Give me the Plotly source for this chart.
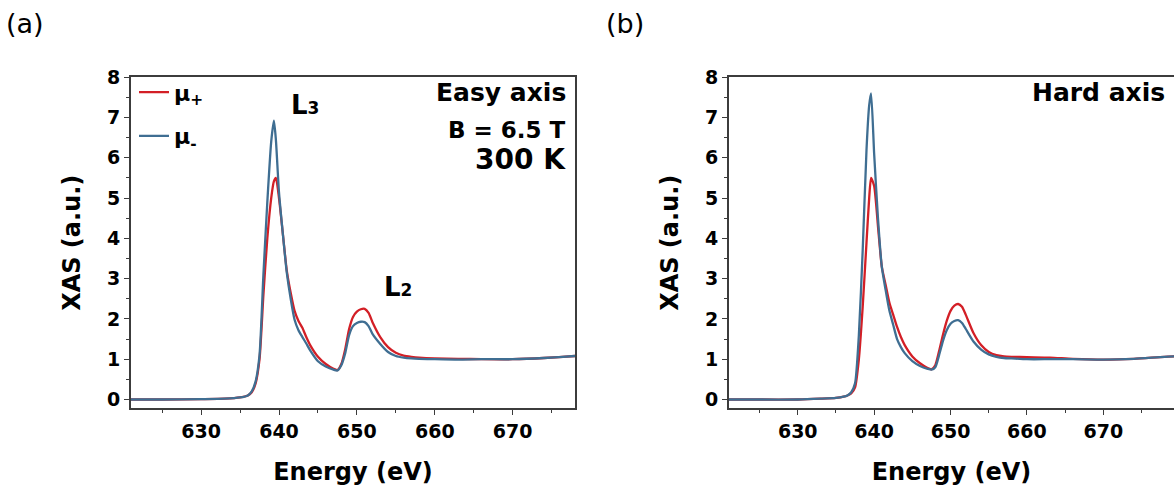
import plotly.graph_objects as go

# Photon energy grid (eV) shared by all spectra
energy = [621, 625, 630, 633, 635, 636, 636.5, 637, 637.5, 638, 638.5, 639, 639.35,
          639.6, 640, 640.5, 641, 641.5, 642, 642.5, 643, 643.5, 644, 645, 646, 647,
          647.5, 648, 648.5, 649, 649.5, 650, 650.5, 651, 651.5, 652, 653, 654, 655,
          656, 657, 658, 660, 663, 666, 670, 674, 678, 679.5]

# (a) Easy axis, B = 6.5 T, 300 K
easy_mu_plus = [0.0, 0.0, 0.01, 0.02, 0.05, 0.1, 0.18, 0.4, 1.0, 2.6, 4.0, 5.0, 5.42,
                5.5, 5.0, 4.1, 3.2, 2.65, 2.2, 1.95, 1.78, 1.55, 1.35, 1.06, 0.88, 0.76,
                0.73, 0.88, 1.25, 1.75, 2.05, 2.18, 2.24, 2.25, 2.15, 1.92, 1.55, 1.3, 1.16,
                1.09, 1.06, 1.04, 1.02, 1.01, 1.0, 1.0, 1.03, 1.08, 1.09]
easy_mu_minus = [0.0, 0.0, 0.01, 0.02, 0.05, 0.1, 0.2, 0.45, 1.1, 3.1, 4.9, 6.4, 6.92,
                 6.45, 5.14, 4.1, 3.15, 2.5, 1.98, 1.72, 1.55, 1.39, 1.22, 0.95, 0.82, 0.74,
                 0.72, 0.85, 1.15, 1.6, 1.82, 1.9, 1.93, 1.92, 1.82, 1.63, 1.38, 1.18, 1.08,
                 1.04, 1.02, 1.01, 1.0, 0.99, 1.0, 1.0, 1.03, 1.08, 1.09]

# (b) Hard axis
hard_mu_plus = [0.0, 0.0, 0.0, 0.02, 0.04, 0.07, 0.1, 0.15, 0.3, 1.0, 2.3, 3.9, 5.0,
                5.5, 5.3, 4.3, 3.3, 2.85, 2.4, 2.1, 1.8, 1.55, 1.35, 1.07, 0.9, 0.78,
                0.75, 0.85, 1.2, 1.6, 1.95, 2.2, 2.33, 2.37, 2.3, 2.1, 1.65, 1.35, 1.18,
                1.1, 1.07, 1.06, 1.05, 1.04, 1.01, 0.99, 1.01, 1.06, 1.07]
hard_mu_minus = [0.0, 0.0, 0.0, 0.02, 0.04, 0.07, 0.1, 0.18, 0.4, 1.6, 3.7, 6.2, 7.3,
                 7.6, 6.1, 4.5, 3.3, 2.72, 2.2, 1.85, 1.5, 1.3, 1.15, 0.95, 0.83, 0.76,
                 0.74, 0.8, 1.1, 1.45, 1.72, 1.88, 1.95, 1.97, 1.9, 1.75, 1.44, 1.24, 1.12,
                 1.06, 1.03, 1.02, 1.0, 1.0, 1.0, 0.99, 1.01, 1.06, 1.07]

x_ticks = [630, 640, 650, 660, 670]
y_ticks = [0, 1, 2, 3, 4, 5, 6, 7, 8]

RED = "#d31f26"
BLUE = "#3f6e92"
FONT = "DejaVu Sans"
W, H = 1174, 498

fig = go.Figure()

line_kw = dict(mode="lines", line_shape="spline")
fig.add_trace(go.Scatter(x=energy, y=easy_mu_plus, name="μ<sub>+</sub>",
                         line=dict(color=RED, width=2.3, smoothing=0.6),
                         legendgroup="p", xaxis="x", yaxis="y", **line_kw))
fig.add_trace(go.Scatter(x=energy, y=easy_mu_minus, name="μ<sub>-</sub>",
                         line=dict(color=BLUE, width=2.3, smoothing=0.6),
                         legendgroup="m", xaxis="x", yaxis="y", **line_kw))
fig.add_trace(go.Scatter(x=energy, y=hard_mu_plus, showlegend=False,
                         line=dict(color=RED, width=2.3, smoothing=0.6),
                         xaxis="x2", yaxis="y2", **line_kw))
fig.add_trace(go.Scatter(x=energy, y=hard_mu_minus, showlegend=False,
                         line=dict(color=BLUE, width=2.3, smoothing=0.6),
                         xaxis="x2", yaxis="y2", **line_kw))

tickfont = dict(family=FONT, size=19, color="black", weight="bold")
titlefont = dict(family=FONT, size=24, color="black", weight="bold")
AX = "#3c3c3c"


def xaxis(domain, rng, anchor):
    return dict(domain=domain, range=rng, anchor=anchor, showgrid=False, zeroline=False,
                showline=True, linecolor=AX, linewidth=1.8, mirror=True,
                ticks="outside", ticklen=5, tickwidth=1.3, tickcolor=AX,
                tickvals=x_ticks, tickfont=tickfont, ticklabelstandoff=0,
                minor=dict(ticks="outside", tick0=625, dtick=10, ticklen=3,
                           tickwidth=1.2, tickcolor=AX),
                title=dict(text="Energy (eV)", font=titlefont, standoff=22))


def yaxis(anchor, mirror):
    dom = [1 - 408 / H, 1 - 68 / H]
    return dict(domain=dom, range=[-0.22, 8], anchor=anchor, showgrid=False, zeroline=False,
                showline=True, linecolor=AX, linewidth=1.8, mirror=mirror,
                ticks="outside", ticklen=5, tickwidth=1.3, tickcolor=AX,
                tickvals=y_ticks, tickfont=tickfont,
                minor=dict(ticks="outside", tick0=0.5, dtick=1, ticklen=3,
                           tickwidth=1.2, tickcolor=AX),
                title=dict(text="XAS (a.u.)", font=titlefont, standoff=20))


fig.update_layout(
    width=W, height=H, autosize=False,
    margin=dict(l=0, r=0, t=0, b=0),
    paper_bgcolor="white", plot_bgcolor="white",
    xaxis=xaxis([131 / W, 575 / W], [621, 678], "y"),
    yaxis=yaxis("x", True),
    xaxis2=xaxis([729 / W, 1.0], [621, 679.25], "y2"),
    yaxis2=yaxis("x2", False),
    showlegend=True,
    legend=dict(x=134 / W, y=1 - 62 / H, xanchor="left", yanchor="top",
                bgcolor="rgba(0,0,0,0)", traceorder="grouped", tracegroupgap=12,
                font=dict(family=FONT, size=22, color="black", weight="bold"),
                itemwidth=30),
)

ann_font = dict(family=FONT, color="black", weight="bold")
annotations = [
    dict(text="(a)", x=4 / W, y=1 - 13 / H, xref="paper", yref="paper",
         xanchor="left", yanchor="middle", showarrow=False,
         font=dict(family=FONT, size=27, color="black")),
    dict(text="(b)", x=604 / W, y=1 - 13 / H, xref="paper", yref="paper",
         xanchor="left", yanchor="middle", showarrow=False,
         font=dict(family=FONT, size=27, color="black")),
    dict(text='L<span style="font-size:17px">3</span>', x=643.4, y=7.3, xref="x", yref="y",
         showarrow=False, font=dict(size=26, **ann_font)),
    dict(text='L<span style="font-size:17px">2</span>', x=655.3, y=2.8, xref="x", yref="y",
         showarrow=False, font=dict(size=26, **ann_font)),
    dict(text="Easy axis", x=568 / W, y=1 - 84 / H, xref="paper", yref="paper",
         xanchor="right", yanchor="middle", showarrow=False, font=dict(size=25, **ann_font)),
    dict(text="B = 6.5 T", x=568 / W, y=1 - 122 / H, xref="paper", yref="paper",
         xanchor="right", yanchor="middle", showarrow=False, font=dict(size=23, **ann_font)),
    dict(text="300 K", x=568 / W, y=1 - 152 / H, xref="paper", yref="paper",
         xanchor="right", yanchor="middle", showarrow=False, font=dict(size=28, **ann_font)),
    dict(text="Hard axis", x=1167 / W, y=1 - 84 / H, xref="paper", yref="paper",
         xanchor="right", yanchor="middle", showarrow=False, font=dict(size=25, **ann_font)),
]
fig.update_layout(annotations=annotations)

fig.write_html("out.html")
